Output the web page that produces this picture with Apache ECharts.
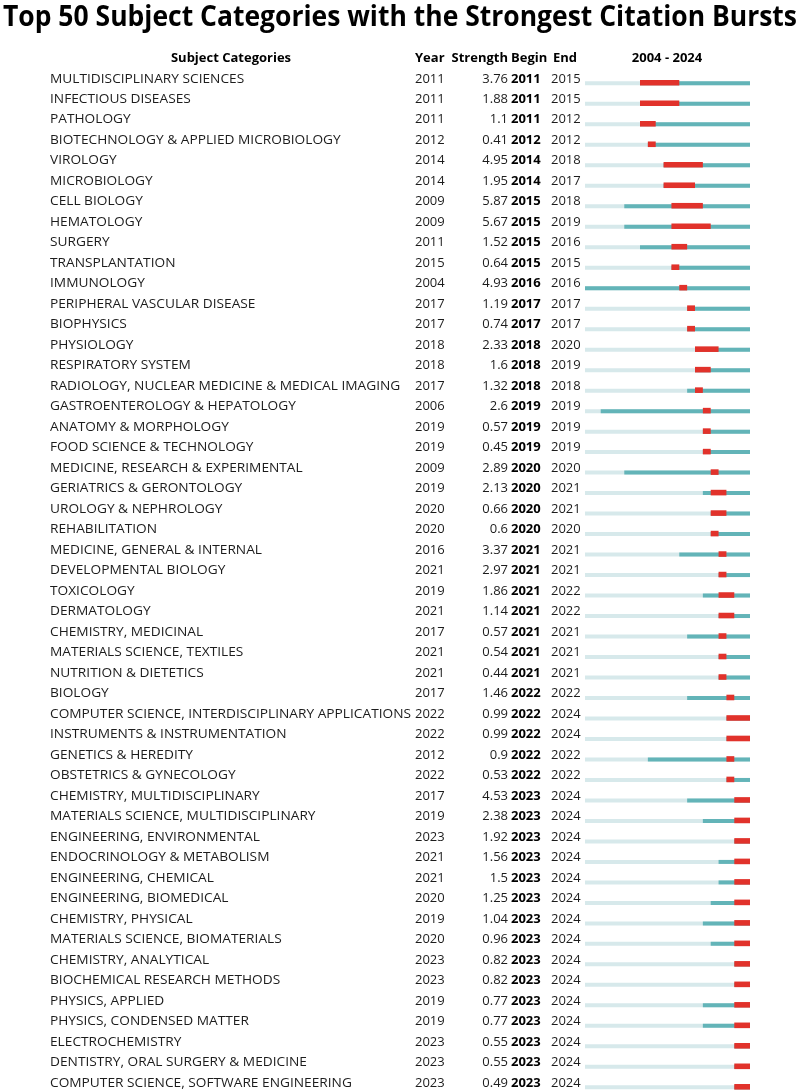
<!DOCTYPE html>
<html><head><meta charset="utf-8">
<script src="https://cdn.jsdelivr.net/npm/echarts@6/dist/echarts.min.js"></script>
<style>html,body{margin:0;padding:0;background:#fff}#c{width:800px;height:1091px}</style>
</head><body><div id="c"></div>
<script>
const categories = [
"MULTIDISCIPLINARY SCIENCES","INFECTIOUS DISEASES","PATHOLOGY","BIOTECHNOLOGY & APPLIED MICROBIOLOGY","VIROLOGY",
"MICROBIOLOGY","CELL BIOLOGY","HEMATOLOGY","SURGERY","TRANSPLANTATION",
"IMMUNOLOGY","PERIPHERAL VASCULAR DISEASE","BIOPHYSICS","PHYSIOLOGY","RESPIRATORY SYSTEM",
"RADIOLOGY, NUCLEAR MEDICINE & MEDICAL IMAGING","GASTROENTEROLOGY & HEPATOLOGY","ANATOMY & MORPHOLOGY","FOOD SCIENCE & TECHNOLOGY","MEDICINE, RESEARCH & EXPERIMENTAL",
"GERIATRICS & GERONTOLOGY","UROLOGY & NEPHROLOGY","REHABILITATION","MEDICINE, GENERAL & INTERNAL","DEVELOPMENTAL BIOLOGY",
"TOXICOLOGY","DERMATOLOGY","CHEMISTRY, MEDICINAL","MATERIALS SCIENCE, TEXTILES","NUTRITION & DIETETICS",
"BIOLOGY","COMPUTER SCIENCE, INTERDISCIPLINARY APPLICATIONS","INSTRUMENTS & INSTRUMENTATION","GENETICS & HEREDITY","OBSTETRICS & GYNECOLOGY",
"CHEMISTRY, MULTIDISCIPLINARY","MATERIALS SCIENCE, MULTIDISCIPLINARY","ENGINEERING, ENVIRONMENTAL","ENDOCRINOLOGY & METABOLISM","ENGINEERING, CHEMICAL",
"ENGINEERING, BIOMEDICAL","CHEMISTRY, PHYSICAL","MATERIALS SCIENCE, BIOMATERIALS","CHEMISTRY, ANALYTICAL","BIOCHEMICAL RESEARCH METHODS",
"PHYSICS, APPLIED","PHYSICS, CONDENSED MATTER","ELECTROCHEMISTRY","DENTISTRY, ORAL SURGERY & MEDICINE","COMPUTER SCIENCE, SOFTWARE ENGINEERING"
];
const years = [
2011,2011,2011,2012,2014, 2014,2009,2009,2011,2015,
2004,2017,2017,2018,2018, 2017,2006,2019,2019,2009,
2019,2020,2020,2016,2021, 2019,2021,2017,2021,2021,
2017,2022,2022,2012,2022, 2017,2019,2023,2021,2021,
2020,2019,2020,2023,2023, 2019,2019,2023,2023,2023
];
const strengths = [
"3.76","1.88","1.1","0.41","4.95", "1.95","5.87","5.67","1.52","0.64",
"4.93","1.19","0.74","2.33","1.6", "1.32","2.6","0.57","0.45","2.89",
"2.13","0.66","0.6","3.37","2.97", "1.86","1.14","0.57","0.54","0.44",
"1.46","0.99","0.99","0.9","0.53", "4.53","2.38","1.92","1.56","1.5",
"1.25","1.04","0.96","0.82","0.82", "0.77","0.77","0.55","0.55","0.49"
];
const begins = [
2011,2011,2011,2012,2014, 2014,2015,2015,2015,2015,
2016,2017,2017,2018,2018, 2018,2019,2019,2019,2020,
2020,2020,2020,2021,2021, 2021,2021,2021,2021,2021,
2022,2022,2022,2022,2022, 2023,2023,2023,2023,2023,
2023,2023,2023,2023,2023, 2023,2023,2023,2023,2023
];
const ends = [
2015,2015,2012,2012,2018, 2017,2018,2019,2016,2015,
2016,2017,2017,2020,2019, 2018,2019,2019,2019,2020,
2021,2021,2020,2021,2021, 2022,2022,2021,2021,2021,
2022,2024,2024,2022,2022, 2024,2024,2024,2024,2024,
2024,2024,2024,2024,2024, 2024,2024,2024,2024,2024
];
const rangeStart = 2004, rangeEnd = 2024;
const titleText = "Top 50 Subject Categories with the Strongest Citation Bursts";
const headers = ["Subject Categories","Year","Strength","Begin","End", rangeStart + " - " + rangeEnd];

const FAM = '"Open Sans", "Noto Sans", sans-serif';
const bodyFont = '13px ' + FAM;
const boldFont = 'bold 13px ' + FAM;
const titleFont = 'bold 29px ' + FAM;
const mctx = document.createElement('canvas').getContext('2d');
function tw(t, f){ mctx.font = f; return mctx.measureText(t).width; }
const nameScale = 361 / tw("COMPUTER SCIENCE, INTERDISCIPLINARY APPLICATIONS", bodyFont);
const titleScale = 794 / tw(titleText, titleFont);
const TEXT_DY = -4.5;
const TXT = '#1c1c1c';
const C_LIGHT = '#d7e9eb', C_TEAL = '#63b4b8', C_RED = '#e1322b';

const rows = categories.map((c, i) => [i, years[i], begins[i], ends[i]]);

const chart = echarts.init(document.getElementById('c'), null, {renderer: 'canvas'});
chart.setOption({
  animation: false,
  backgroundColor: '#fff',
  grid: {left: 585, width: 165, top: 83.3, height: 1004},
  xAxis: {type: 'value', min: rangeStart, max: rangeEnd + 1, show: false},
  yAxis: {type: 'value', min: 0, max: categories.length - 1, inverse: true, show: false},
  graphic: [
    {type: 'text', x: 3, y: 18, scaleX: titleScale, style: {text: titleText, font: titleFont, fill: '#000', align: 'left', verticalAlign: 'middle'}},
    {type: 'text', x: 231, y: 58, style: {text: headers[0], font: boldFont, fill: '#000', align: 'center', verticalAlign: 'middle'}},
    {type: 'text', x: 415, y: 58, style: {text: headers[1], font: boldFont, fill: '#000', align: 'left', verticalAlign: 'middle'}},
    {type: 'text', x: 508, y: 58, style: {text: headers[2], font: boldFont, fill: '#000', align: 'right', verticalAlign: 'middle'}},
    {type: 'text', x: 511, y: 58, style: {text: headers[3], font: boldFont, fill: '#000', align: 'left', verticalAlign: 'middle'}},
    {type: 'text', x: 553, y: 58, style: {text: headers[4], font: boldFont, fill: '#000', align: 'left', verticalAlign: 'middle'}},
    {type: 'text', x: 667, y: 58, style: {text: headers[5], font: boldFont, fill: '#000', align: 'center', verticalAlign: 'middle'}}
  ],
  series: [
    {
      type: 'custom', data: rows, silent: true,
      renderItem: function (params, api) {
        const i = api.value(0), yr = api.value(1), b = api.value(2), e = api.value(3);
        const p0 = api.coord([rangeStart, i]), p1 = api.coord([rangeEnd + 1, i]);
        const py = api.coord([yr, i]), pb = api.coord([b, i]), pe = api.coord([e + 1, i]);
        const cy = p0[1];
        return {type: 'group', children: [
          {type: 'rect', shape: {x: p0[0], y: cy - 2, width: p1[0] - p0[0], height: 4}, style: {fill: C_LIGHT}},
          {type: 'rect', shape: {x: py[0], y: cy - 2, width: p1[0] - py[0], height: 4}, style: {fill: C_TEAL}},
          {type: 'rect', shape: {x: pb[0], y: cy - 3.3, width: pe[0] - pb[0], height: 5.6}, style: {fill: C_RED}}
        ]};
      }
    },
    {
      type: 'custom', data: rows, silent: true,
      renderItem: function (params, api) {
        const i = api.value(0);
        const y = api.coord([rangeStart, i])[1] + TEXT_DY;
        return {type: 'group', children: [
          {type: 'text', x: 50, y: y, scaleX: nameScale, style: {text: categories[i], font: bodyFont, fill: TXT, align: 'left', verticalAlign: 'middle'}},
          {type: 'text', x: 415, y: y, style: {text: String(years[i]), font: bodyFont, fill: TXT, align: 'left', verticalAlign: 'middle'}},
          {type: 'text', x: 508, y: y, style: {text: strengths[i], font: bodyFont, fill: TXT, align: 'right', verticalAlign: 'middle'}},
          {type: 'text', x: 511, y: y, style: {text: String(begins[i]), font: boldFont, fill: '#000', align: 'left', verticalAlign: 'middle'}},
          {type: 'text', x: 551, y: y, style: {text: String(ends[i]), font: bodyFont, fill: TXT, align: 'left', verticalAlign: 'middle'}}
        ]};
      }
    }
  ]
});
</script></body></html>
